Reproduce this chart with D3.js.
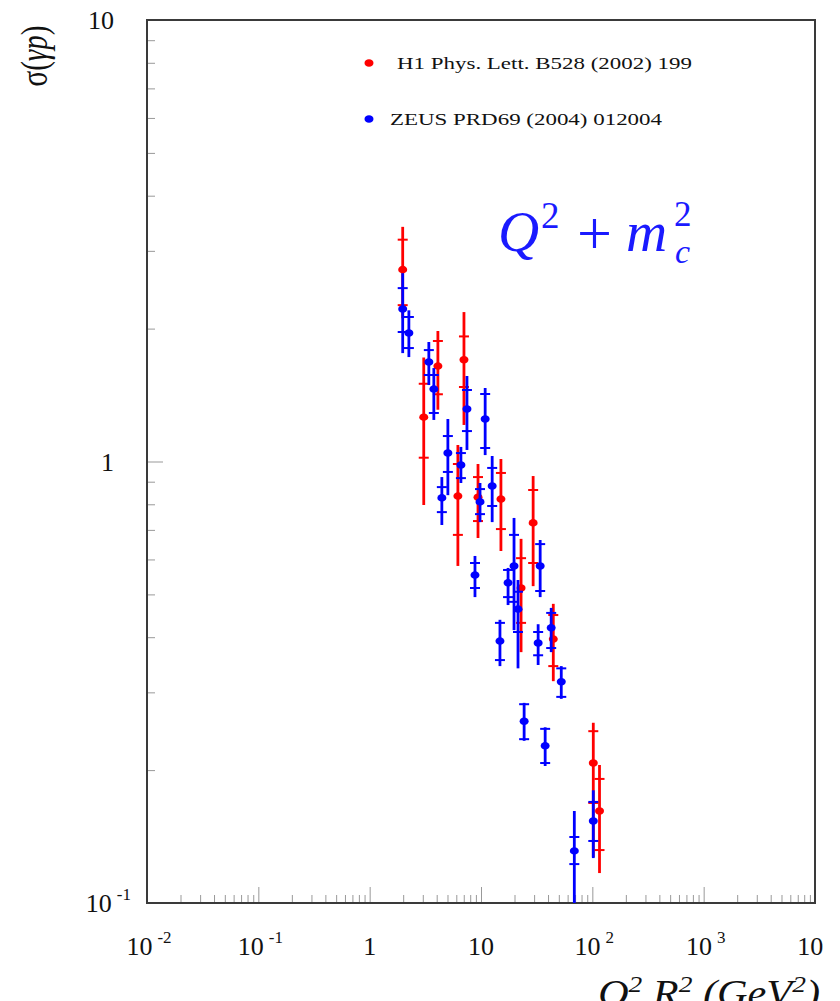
<!DOCTYPE html>
<html>
<head>
<meta charset="utf-8">
<script src="https://cdn.jsdelivr.net/npm/d3@7"></script>
<style>
body { margin: 0; background: #fff; }
svg { display: block; }
text { font-family: "Liberation Serif", "DejaVu Serif", serif; fill: #111; }
</style>
</head>
<body>
<svg id="svg"></svg>
<script>
// axis ticks and labels (base, exponent)
var xTicks = [0.01, 0.1, 1, 10, 100, 1000, 10000];
var xTickLabels = [["10", "-2"], ["10", "-1"], ["1", ""], ["10", ""], ["10", "2"], ["10", "3"], ["10", "4"]];
var yTicks = [0.1, 1, 10];
var yTickLabels = [["10", "-1"], ["1", ""], ["10", ""]];

var legendNames = ["H1 Phys. Lett. B528 (2002) 199", "ZEUS PRD69 (2004) 012004"];

// H1 points: Q2+mc2, sigma, stat error band [lo, hi], total error band [lo, hi]
var h1Q2 = [1.98, 3.06, 4.10, 7.03, 6.2, 9.4, 15.1, 29.4, 22.9, 44.6, 102, 116];
var h1Sigma = [2.72, 1.26, 1.645, 1.70, 0.835, 0.83, 0.822, 0.726, 0.517, 0.396, 0.2075, 0.1616];
var h1Stat = [[2.26, 3.18], [1.02, 1.50], [1.42, 1.875], [1.475, 1.92], [0.682, 0.987], [0.733, 0.922],
              [0.703, 0.942], [0.589, 0.862], [0.431, 0.604], [0.344, 0.449], [0.1685, 0.245], [0.1318, 0.191]];
var h1Tot = [[2.11, 3.40], [0.797, 1.72], [1.31, 1.975], [1.21, 2.18], [0.58, 1.09], [0.671, 0.987],
             [0.627, 1.013], [0.522, 0.927], [0.370, 0.668], [0.318, 0.476], [0.127, 0.256], [0.1169, 0.2054]];

// ZEUS points
var zeusQ2 = [1.98, 2.25, 3.40, 3.77, 5.04, 4.45, 6.6, 7.48, 10.9, 8.83, 9.8, 12.6,
              17.5, 19.8, 21.5, 14.8, 34.0, 32.6, 42.7, 52.6, 24.4, 37.7, 68.9, 102];
var zeusSigma = [2.215, 1.955, 1.68, 1.459, 1.045, 0.827, 0.982, 1.315, 1.248, 0.553, 0.810, 0.880,
                 0.531, 0.580, 0.463, 0.392, 0.580, 0.388, 0.420, 0.317, 0.258, 0.227, 0.1312, 0.1534];
var zeusStat = [[1.965, 2.47], [1.807, 2.125], [1.57, 1.788], [1.288, 1.57], [0.947, 1.142], [0.768, 0.875],
                [0.917, 1.045], [1.172, 1.452], [1.073, 1.422], [0.517, 0.589], [0.760, 0.866], [0.793, 0.967],
                [0.493, 0.568], [0.481, 0.682], [0.411, 0.507], [0.355, 0.431], [0.509, 0.650], [0.364, 0.411],
                [0.378, 0.454], [0.293, 0.340], [0.235, 0.282], [0.2075, 0.248], [0.1225, 0.1411], [0.1382, 0.1694]];
var zeusTot = [[1.76, 2.67], [1.724, 2.20], [1.49, 1.865], [1.242, 1.628], [0.839, 1.248], [0.718, 0.922],
               [0.894, 1.079], [1.062, 1.562], [1.034, 1.467], [0.493, 0.611], [0.729, 0.894], [0.729, 1.029],
               [0.473, 0.574], [0.415, 0.745], [0.340, 0.539], [0.344, 0.438], [0.493, 0.664], [0.346, 0.428],
               [0.370, 0.466], [0.290, 0.344], [0.233, 0.284], [0.2043, 0.250], [0.09, 0.1616], [0.1264, 0.180]];

var width = 840, height = 1001;
var frame = {left: 147, right: 815, top: 20, bottom: 903};

var svg = d3.select("#svg").attr("width", width).attr("height", height);
svg.append("defs").append("clipPath").attr("id", "page")
    .append("rect").attr("x", 0).attr("y", 0).attr("width", 827).attr("height", height);
svg.append("defs").append("clipPath").attr("id", "clip")
    .append("rect")
    .attr("x", frame.left).attr("y", frame.top)
    .attr("width", frame.right - frame.left).attr("height", frame.bottom - frame.top);

var root = svg.append("g").attr("clip-path", "url(#page)");

var xScale = d3.scaleLog().domain([0.01, 10000]).range([frame.left, frame.right]);
var yScale = d3.scaleLog().domain([0.1, 10]).range([frame.bottom, frame.top]);

function minorTicks(lo, hi) {
    var out = [];
    for (var e = lo; e < hi; e++)
        for (var k = 2; k <= 9; k++) out.push(k * Math.pow(10, e));
    return out;
}

function styleTicks(g) {
    g.select(".domain").remove();
    g.selectAll(".tick line").attr("stroke", "#999").attr("stroke-width", 1);
}

// x axis ticks point up into the frame
root.append("g").attr("transform", `translate(0, ${frame.bottom})`)
    .call(d3.axisBottom(xScale).tickValues(minorTicks(-2, 4)).tickSize(-8).tickFormat(""))
    .call(styleTicks);
root.append("g").attr("transform", `translate(0, ${frame.bottom})`)
    .call(d3.axisBottom(xScale).tickValues(xTicks).tickSize(-16).tickFormat(""))
    .call(styleTicks);

root.append("g").attr("transform", `translate(${frame.left}, 0)`)
    .call(d3.axisLeft(yScale).tickValues(minorTicks(-1, 1)).tickSize(-8).tickFormat(""))
    .call(styleTicks);
root.append("g").attr("transform", `translate(${frame.left}, 0)`)
    .call(d3.axisLeft(yScale).tickValues(yTicks).tickSize(-16).tickFormat(""))
    .call(styleTicks);

root.append("rect")
    .attr("x", frame.left).attr("y", frame.top)
    .attr("width", frame.right - frame.left).attr("height", frame.bottom - frame.top)
    .attr("fill", "none").attr("stroke", "#3a3a3a").attr("stroke-width", 2);

// tick labels with superscript exponent
function powLabel(sel, lab) {
    sel.append("tspan").text(lab[0]);
    if (lab[1]) sel.append("tspan").attr("dx", 5).attr("dy", -12).attr("font-size", 17).text(lab[1]);
}

xTicks.forEach((v, i) => {
    var t = root.append("text")
        .attr("x", xScale(v) + (xTickLabels[i][1] ? 2 : 0)).attr("y", 955)
        .attr("text-anchor", "middle").attr("font-size", 26);
    powLabel(t, xTickLabels[i]);
});

yTicks.forEach((v, i) => {
    var lab = yTickLabels[i];
    var t = root.append("text")
        .attr("x", lab[1] ? frame.left - 16 : frame.left - 33)
        .attr("y", yScale(v) + 9)
        .attr("text-anchor", "end").attr("font-size", 26);
    powLabel(t, lab);
});

// axis titles
var yt = root.append("text")
    .attr("transform", "translate(47, 56) scale(1.3, 1) rotate(-90)")
    .attr("text-anchor", "middle").attr("font-size", 29);
yt.append("tspan").text("σ(");
yt.append("tspan").attr("font-style", "italic").text("γp");
yt.append("tspan").text(")");

var xt = root.append("text")
    .attr("x", 598).attr("y", 1006)
    .attr("font-size", 37).attr("font-style", "italic")
    .attr("textLength", 222).attr("lengthAdjust", "spacingAndGlyphs");
xt.append("tspan").text("Q");
xt.append("tspan").attr("dy", -14).attr("font-size", 24).text("2");
xt.append("tspan").attr("dy", 14).text(" R");
xt.append("tspan").attr("dy", -14).attr("font-size", 24).text("2");
xt.append("tspan").attr("dy", 14).text(" (GeV");
xt.append("tspan").attr("dy", -14).attr("font-size", 24).text("2");
xt.append("tspan").attr("dy", 14).text(")");

// legend
var legend = root.append("g");
var legendY = [63, 119];
var legendX = [397, 390];
var legendLen = [295, 272];
var colors = ["#ff0000", "#0000ff"];
legendNames.forEach((name, i) => {
    legend.append("ellipse").attr("cx", 369).attr("cy", legendY[i]).attr("rx", 4.5).attr("ry", 3.8)
        .attr("fill", colors[i]);
    legend.append("text").attr("x", legendX[i]).attr("y", legendY[i] + 5.5)
        .attr("font-size", 16.5)
        .attr("textLength", legendLen[i]).attr("lengthAdjust", "spacingAndGlyphs")
        .text(name);
});

// Q^2 + m_c^2 label
var lab = root.append("g");
function labText(x, y, size, italic, s) {
    lab.append("text").attr("x", x).attr("y", y).attr("font-size", size)
        .attr("font-style", italic ? "italic" : "normal")
        .style("fill", "#1a1aff").text(s);
}
labText(498, 251, 57, true, "Q");
labText(541, 228, 37, false, "2");
labText(577, 254, 62, false, "+");
labText(626, 251, 57, true, "m");
labText(674, 226, 35, false, "2");
labText(675, 263, 34, true, "c");

// data
function rows(q2, sig, stat, tot) {
    return q2.map((q, i) => ({q2: q, y: sig[i], stat: stat[i], tot: tot[i]}));
}

var plot = root.append("g").attr("clip-path", "url(#clip)");

function drawSeries(data, color) {
    var g = plot.append("g");
    g.selectAll(".tot").data(data).enter().append("line")
        .attr("x1", d => xScale(d.q2)).attr("x2", d => xScale(d.q2))
        .attr("y1", d => yScale(d.tot[0])).attr("y2", d => yScale(d.tot[1]))
        .attr("stroke", color).attr("stroke-width", 2.8);
    var bars = data.flatMap(d => d.stat.map(v => ({q2: d.q2, v: v})));
    g.selectAll(".stat").data(bars).enter().append("line")
        .attr("x1", d => xScale(d.q2) - 5).attr("x2", d => xScale(d.q2) + 5)
        .attr("y1", d => yScale(d.v)).attr("y2", d => yScale(d.v))
        .attr("stroke", color).attr("stroke-width", 2);
    g.selectAll(".dot").data(data).enter().append("ellipse")
        .attr("cx", d => xScale(d.q2)).attr("cy", d => yScale(d.y))
        .attr("rx", 4.5).attr("ry", 3.8)
        .attr("fill", color);
}

drawSeries(rows(h1Q2, h1Sigma, h1Stat, h1Tot), "#ff0000");
drawSeries(rows(zeusQ2, zeusSigma, zeusStat, zeusTot), "#0000ff");
</script>
</body>
</html>
